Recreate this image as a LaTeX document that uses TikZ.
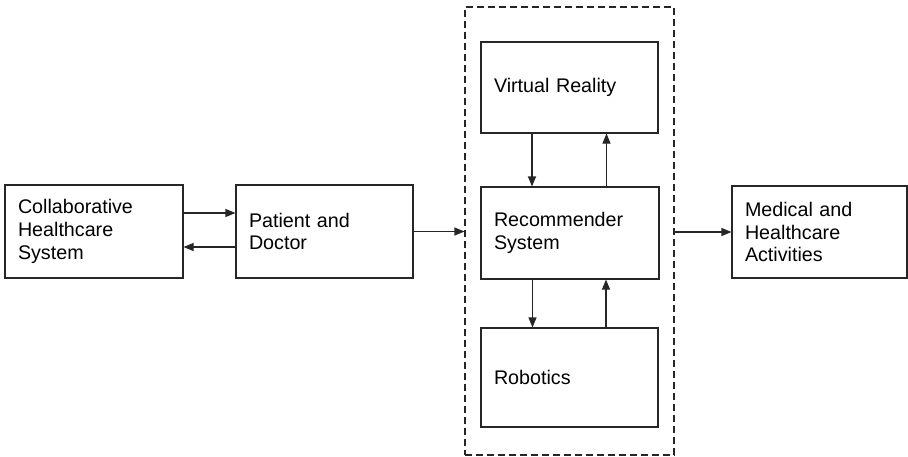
\documentclass[tikz,border=0pt]{standalone}
\usepackage{fontspec}
\setmainfont{Liberation Sans}
\usetikzlibrary{arrows.meta}
\begin{document}
\begin{tikzpicture}[x=1pt,y=-1pt,
  box/.style={draw=black!85, line width=1.1pt, rectangle, align=left,
    inner xsep=13pt, inner ysep=0pt, font=\fontsize{19.7}{22.6}\selectfont},
  arr/.style={draw=black!85, line width=1.1pt, -{Triangle[length=10pt,width=8pt]}},
  grpbox/.style={draw=black!85, line width=1.1pt, dash pattern=on 7pt off 4pt,
    rectangle, inner sep=0pt}]
\useasboundingbox (0,0) rectangle (908,456);
% grouping frame around the three central modules
\node[grpbox, minimum width=209pt, minimum height=448pt] (grp) at (569.5,231) {};
% boxes
\node[box, minimum width=178pt, minimum height=93pt, text width=152pt] (chs) at (94,231.5) {Collaborative\\Healthcare\\System};
\node[box, minimum width=177pt, minimum height=93pt, text width=151pt] (pd) at (324.5,231.5) {Patient and\\Doctor};
\node[box, minimum width=177pt, minimum height=91pt, text width=151pt] (vr) at (569.5,87.5) {Virtual Reality};
\node[box, minimum width=178pt, minimum height=92pt, text width=152pt] (rs) at (570,233) {Recommender\\System};
\node[box, minimum width=177pt, minimum height=99pt, text width=151pt] (rob) at (569.5,377.5) {Robotics};
\node[box, minimum width=175pt, minimum height=92pt, text width=149pt] (med) at (819.5,232) {Medical and\\Healthcare\\Activities};
% connectors
\draw[arr] ([yshift=18.5pt]chs.east) -- ([yshift=18.5pt]pd.west);
\draw[arr] ([yshift=-15.5pt]pd.west) -- ([yshift=-15.5pt]chs.east);
\draw[arr] (pd.east) -- (pd.east -| grp.west);
\draw[arr] (grp.east |- med.west) -- (med.west);
\draw[arr] ([xshift=-37.5pt]vr.south) -- ([xshift=-37.5pt]vr.south |- rs.north);
\draw[arr] ([xshift=36.5pt]rs.north) -- ([xshift=36.5pt]rs.north |- vr.south);
\draw[arr] ([xshift=-37.5pt]rs.south) -- ([xshift=-37.5pt]rs.south |- rob.north);
\draw[arr] ([xshift=36.5pt]rob.north) -- ([xshift=36.5pt]rob.north |- rs.south);
\end{tikzpicture}
\end{document}
